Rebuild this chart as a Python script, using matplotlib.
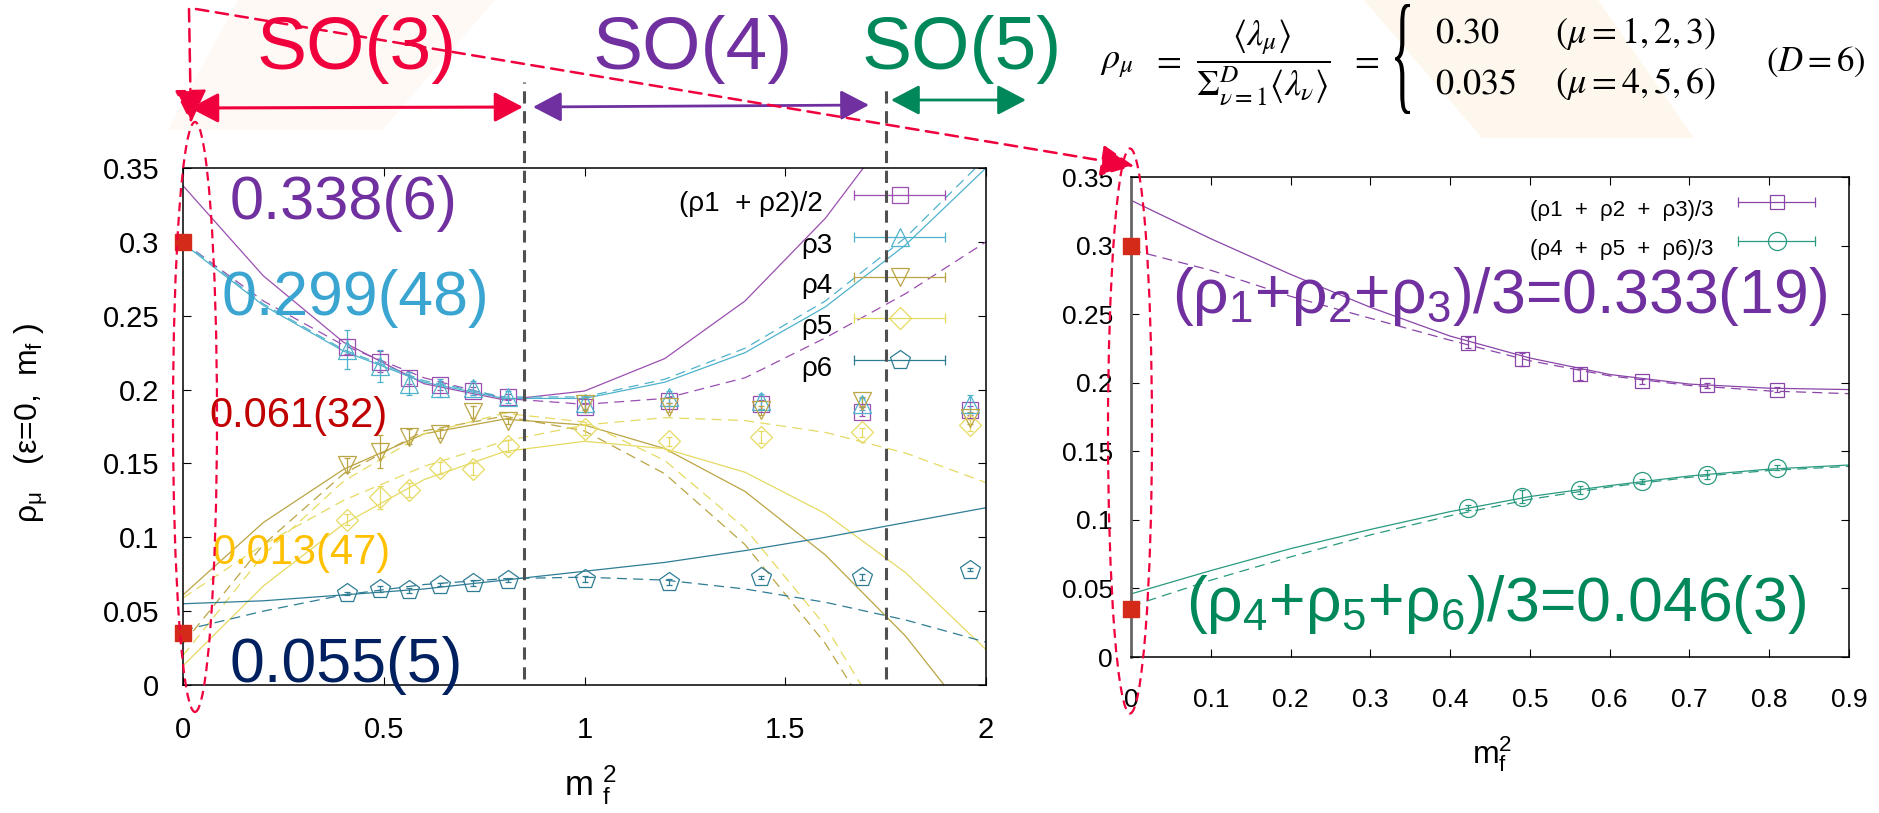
import matplotlib
matplotlib.use("Agg")
import matplotlib.pyplot as plt
from matplotlib.patches import Ellipse, FancyArrowPatch, Polygon, PathPatch
from matplotlib.textpath import TextPath
from matplotlib.font_manager import FontProperties
from matplotlib.transforms import Affine2D

W, H = 1879, 813

plt.rcParams['font.family'] = ['Liberation Sans', 'DejaVu Sans']
plt.rcParams['mathtext.fontset'] = 'custom'
plt.rcParams['mathtext.rm'] = 'Liberation Sans'
plt.rcParams['mathtext.it'] = 'Liberation Sans:italic'
plt.rcParams['mathtext.bf'] = 'Liberation Sans:bold'

# ---------------- left panel: rho_mu vs m_f^2 ----------------
mf2 = [0.4096, 0.49, 0.5625, 0.64, 0.7225, 0.81, 1.0, 1.21, 1.44, 1.69, 1.96]
rho12 = [0.229, 0.219, 0.208, 0.203, 0.199, 0.195, 0.188, 0.192, 0.190, 0.185, 0.186]
err12 = [0.005, 0.007, 0.004, 0.003, 0.003, 0.002, 0.003, 0.003, 0.003, 0.003, 0.003]
rho3 = [0.227, 0.216, 0.204, 0.201, 0.201, 0.195, 0.191, 0.195, 0.192, 0.190, 0.190]
err3 = [0.013, 0.011, 0.008, 0.006, 0.005, 0.004, 0.004, 0.004, 0.005, 0.004, 0.006]
rho4 = [0.149, 0.158, 0.168, 0.170, 0.185, 0.179, 0.190, 0.188, 0.186, 0.192, 0.181]
err4 = [0.005, 0.011, 0.005, 0.003, 0.004, 0.002, 0.004, 0.003, 0.003, 0.003, 0.004]
rho5 = [0.112, 0.127, 0.132, 0.147, 0.146, 0.162, 0.173, 0.165, 0.168, 0.171, 0.176]
err5 = [0.004, 0.008, 0.005, 0.004, 0.004, 0.004, 0.004, 0.003, 0.004, 0.003, 0.004]
rho6 = [0.062, 0.065, 0.064, 0.068, 0.069, 0.071, 0.072, 0.070, 0.073, 0.073, 0.078]
err6 = [0.001, 0.002, 0.002, 0.001, 0.002, 0.001, 0.002, 0.002, 0.001, 0.002, 0.001]

# fit curves at these m_f^2 values
fit_x = [0.0, 0.2, 0.4, 0.6, 0.8, 1.0, 1.2, 1.4, 1.6, 1.8, 2.0]
fit12_solid = [0.338, 0.277, 0.232, 0.204, 0.193, 0.199, 0.221, 0.260, 0.316, 0.388, 0.477]
fit12_dash = [0.300, 0.260, 0.230, 0.208, 0.194, 0.190, 0.194, 0.208, 0.235, 0.265, 0.300]
fit3_solid = [0.299, 0.257, 0.226, 0.205, 0.194, 0.194, 0.205, 0.225, 0.256, 0.298, 0.350]
fit3_dash = [0.300, 0.258, 0.227, 0.206, 0.195, 0.195, 0.207, 0.228, 0.260, 0.303, 0.357]
fit4_solid = [0.061, 0.110, 0.146, 0.170, 0.180, 0.176, 0.160, 0.131, 0.088, 0.033, -0.036]
fit4_dash = [0.028, 0.095, 0.143, 0.172, 0.182, 0.172, 0.143, 0.095, 0.028, -0.059, -0.140]
fit5_solid = [0.013, 0.067, 0.109, 0.139, 0.158, 0.165, 0.160, 0.144, 0.116, 0.076, 0.024]
fit5_dash = [0.059, 0.095, 0.125, 0.148, 0.165, 0.176, 0.181, 0.179, 0.171, 0.157, 0.137]
fit5_dash2 = [0.020, 0.088, 0.138, 0.170, 0.184, 0.178, 0.152, 0.106, 0.040, -0.050, -0.160]
fit6_solid = [0.055, 0.057, 0.061, 0.065, 0.071, 0.077, 0.083, 0.091, 0.100, 0.110, 0.120]
fit6_dash = [0.037, 0.050, 0.061, 0.068, 0.072, 0.073, 0.071, 0.065, 0.056, 0.044, 0.029]

# reference values at m_f = 0
ref_x = [0.0, 0.0]
ref_y = [0.30, 0.035]

left_xticks = [0, 0.5, 1, 1.5, 2]
left_xlabels = ['0', '0.5', '1', '1.5', '2']
yticks = [0, 0.05, 0.1, 0.15, 0.2, 0.25, 0.3, 0.35]
ylabels = ['0', '0.05', '0.1', '0.15', '0.2', '0.25', '0.3', '0.35']
left_keys = ['(ρ1  + ρ2)/2', 'ρ3', 'ρ4', 'ρ5', 'ρ6']
so_borders = [0.85, 1.75]

# ---------------- right panel: SO(3) averages ----------------
mf2_r = [0.4225, 0.49, 0.5625, 0.64, 0.7225, 0.81]
avg123 = [0.229, 0.217, 0.206, 0.201, 0.198, 0.195]
err123 = [0.004, 0.005, 0.004, 0.002, 0.002, 0.002]
avg456 = [0.109, 0.117, 0.122, 0.128, 0.133, 0.138]
err456 = [0.002, 0.005, 0.003, 0.002, 0.003, 0.002]
fit_xr = [0.0, 0.1, 0.2, 0.3, 0.4, 0.5, 0.6, 0.7, 0.8, 0.9]
fit123_solid = [0.333, 0.305, 0.279, 0.255, 0.234, 0.218, 0.206, 0.199, 0.196, 0.195]
fit123_dash = [0.297, 0.282, 0.263, 0.247, 0.231, 0.216, 0.205, 0.198, 0.194, 0.192]
fit456_solid = [0.046, 0.063, 0.079, 0.093, 0.106, 0.117, 0.125, 0.132, 0.137, 0.140]
fit456_dash = [0.037, 0.056, 0.073, 0.089, 0.103, 0.115, 0.124, 0.131, 0.136, 0.139]
right_xticks = [0, 0.1, 0.2, 0.3, 0.4, 0.5, 0.6, 0.7, 0.8, 0.9]
right_xlabels = ['0', '0.1', '0.2', '0.3', '0.4', '0.5', '0.6', '0.7', '0.8', '0.9']
right_keys = ['(ρ1  +  ρ2  +  ρ3)/3', '(ρ4  +  ρ5  +  ρ6)/3']

# colours
c12, c3, c4, c5, c6 = '#9b4fb0', '#4fb2cc', '#bba443', '#e6da62', '#2f7d95'
c123, c456 = '#8a45a8', '#2a9a80'
RED = '#f0003c'
PURPLE = '#7030a0'
GREEN = '#00875a'
SQ = '#d42a1a'


def fx(x):
    return x / W


def fy(y):
    return 1 - y / H


fig = plt.figure(figsize=(W / 100, H / 100), dpi=100)

# faint slide decorations behind the header
fig.add_artist(Polygon([(fx(238), fy(0)), (fx(495), fy(0)), (fx(382), fy(130)), (fx(168), fy(130))],
                       closed=True, transform=fig.transFigure, fc='#fef9f4', ec='none', zorder=0))
fig.add_artist(Polygon([(fx(1364), fy(0)), (fx(1598), fy(0)), (fx(1694), fy(138)), (fx(1482), fy(138))],
                       closed=True, transform=fig.transFigure, fc='#fef7ed', ec='none', zorder=0))

axL = fig.add_axes([fx(183), fy(685), 803 / W, 517 / H])
axR = fig.add_axes([fx(1131), fy(657), 718 / W, 480 / H])


def errpts(ax, x, y, e, col, mk, ms):
    ax.errorbar(x, y, yerr=e, fmt=mk, mfc='none', mec=col, ecolor=col, ms=ms, mew=0.9,
                elinewidth=0.9, capsize=2.5, capthick=0.9, zorder=3)


def key_row(ax, y, label, col, mk, ms, x0, x1, xm, xt, fs):
    ax.plot([x0, x1], [y, y], color=col, lw=0.9, transform=ax.transAxes)
    ax.plot([x0, x1], [y, y], ls='none', marker='|', ms=7, mew=0.9, color=col, transform=ax.transAxes)
    ax.plot([xm], [y], ls='none', marker=mk, ms=ms, mfc='none', mec=col, mew=0.9, transform=ax.transAxes)
    ax.text(xt, y - 0.018, label, ha='right', va='center', fontsize=fs, transform=ax.transAxes)


# ---- left panel
dash = (8, 5)
axL.plot(fit_x, fit12_solid, color=c12, lw=0.9)
axL.plot(fit_x, fit12_dash, color=c12, lw=0.9, dashes=dash)
axL.plot(fit_x, fit3_solid, color=c3, lw=0.9)
axL.plot(fit_x, fit3_dash, color=c3, lw=0.9, dashes=dash)
axL.plot(fit_x, fit4_solid, color=c4, lw=0.9)
axL.plot(fit_x, fit4_dash, color=c4, lw=0.9, dashes=dash)
axL.plot(fit_x, fit5_solid, color=c5, lw=0.9)
axL.plot(fit_x, fit5_dash, color=c5, lw=0.9, dashes=dash)
axL.plot(fit_x, fit5_dash2, color=c5, lw=0.9, dashes=dash)
axL.plot(fit_x, fit6_solid, color=c6, lw=0.9)
axL.plot(fit_x, fit6_dash, color=c6, lw=0.9, dashes=dash)

errpts(axL, mf2, rho12, err12, c12, 's', 11)
errpts(axL, mf2, rho3, err3, c3, '^', 13)
errpts(axL, mf2, rho4, err4, c4, 'v', 13)
errpts(axL, mf2, rho5, err5, c5, 'D', 11)
errpts(axL, mf2, rho6, err6, c6, 'p', 15)

axL.plot(ref_x, ref_y, 's', color=SQ, ms=11, clip_on=False, zorder=6)

for xb, top in zip(so_borders, [1.166, 1.155]):
    axL.axvline(xb, ymin=0.012, ymax=top, color='#505050', lw=2.2, dashes=(4, 2.5), clip_on=False, zorder=5)

key_cols = [c12, c3, c4, c5, c6]
key_mk = ['s', '^', 'v', 'D', 'p']
key_ms = [11, 13, 13, 11, 15]
key_y = [0.948, 0.867, 0.789, 0.710, 0.629]
key_xt = [0.797, 0.809, 0.809, 0.809, 0.809]
for lab, col, mk, ms, yy, xt in zip(left_keys, key_cols, key_mk, key_ms, key_y, key_xt):
    key_row(axL, yy, lab, col, mk, ms, 0.836, 0.949, 0.893, xt, 20)

axL.set_xlim(0, 2)
axL.set_ylim(0, 0.35)
axL.set_xticks(left_xticks)
axL.set_xticklabels(left_xlabels)
axL.set_yticks(yticks)
axL.set_yticklabels(ylabels)
axL.tick_params(direction='in', top=True, right=True, length=6, width=0.8, labelsize=21)
axL.tick_params(axis='y', pad=17)
axL.tick_params(axis='x', pad=22)
for s in axL.spines.values():
    s.set_linewidth(1.1)
axL.set_xlabel(r'm $_{\mathrm{f}}^{2}$', fontsize=25)
axL.xaxis.set_label_coords(0.507, -0.150)
fig.text(fx(31), fy(423), r'ρ$_{\mathrm{\mu}}$   (ε=0,  m$_{\mathrm{f}}$ )', fontsize=23,
         rotation=90, ha='center', va='center')

# ---- right panel
axR.plot(fit_xr, fit123_solid, color=c123, lw=0.9)
axR.plot(fit_xr, fit123_dash, color=c123, lw=0.9, dashes=dash)
axR.plot(fit_xr, fit456_solid, color=c456, lw=0.9)
axR.plot(fit_xr, fit456_dash, color=c456, lw=0.9, dashes=dash)
errpts(axR, mf2_r, avg123, err123, c123, 's', 10)
errpts(axR, mf2_r, avg456, err456, c456, 'o', 13)
axR.plot(ref_x, ref_y, 's', color=SQ, ms=11, clip_on=False, zorder=6)

key_row(axR, 0.948, right_keys[0], c123, 's', 10, 0.845, 0.953, 0.900, 0.811, 16)
key_row(axR, 0.867, right_keys[1], c456, 'o', 13, 0.845, 0.953, 0.900, 0.811, 16)

axR.set_xlim(0, 0.9)
axR.set_ylim(0, 0.35)
axR.set_xticks(right_xticks)
axR.set_xticklabels(right_xlabels)
axR.set_yticks(yticks)
axR.set_yticklabels(ylabels)
axR.tick_params(direction='in', top=True, right=True, length=6, width=0.8, labelsize=19)
axR.tick_params(axis='y', pad=13)
axR.tick_params(axis='x', pad=22)
for s in axR.spines.values():
    s.set_linewidth(1.1)
axR.spines['left'].set_color('#666666')
axR.spines['left'].set_linewidth(2)
axR.set_xlabel(r'm$_{\mathrm{f}}^{2}$', fontsize=23)
axR.xaxis.set_label_coords(0.503, -0.160)

# ---- big annotations
fig.text(fx(230), fy(204), '0.338(6)', fontsize=44, color=PURPLE, va='center', zorder=7)
fig.text(fx(221), fy(298), '0.299(48)', fontsize=45, color='#3aa5d0', va='center', zorder=7)
fig.text(fx(209), fy(416), '0.061(32)', fontsize=30, color='#c00000', va='center', zorder=7)
fig.text(fx(212), fy(553), '0.013(47)', fontsize=30, color='#ffc000', va='center', zorder=7)
fig.text(fx(230), fy(665), '0.055(5)', fontsize=45, color='#002060', va='center', zorder=7)
fig.text(fx(1172), fy(296), r'(ρ$_1$+ρ$_2$+ρ$_3$)/3=0.333(19)', fontsize=45, color=PURPLE,
         va='center', zorder=7)
fig.text(fx(1186), fy(604), r'(ρ$_4$+ρ$_5$+ρ$_6$)/3=0.046(3)', fontsize=45, color=GREEN,
         va='center', zorder=7)

# ---- SO(n) header
fig.text(fx(357), fy(50), 'SO(3)', fontsize=54, color=RED, ha='center', va='center')
fig.text(fx(693), fy(50), 'SO(4)', fontsize=54, color=PURPLE, ha='center', va='center')
fig.text(fx(962), fy(50), 'SO(5)', fontsize=54, color=GREEN, ha='center', va='center')


def arrow(p0, p1, col, style, lw, ls='-', ms=22):
    fig.add_artist(FancyArrowPatch((fx(p0[0]), fy(p0[1])), (fx(p1[0]), fy(p1[1])),
                                   transform=fig.transFigure, arrowstyle=style, mutation_scale=ms,
                                   color=col, lw=lw, linestyle=ls, shrinkA=0, shrinkB=0, zorder=8))


both = '<|-|>,head_length=0.8,head_width=0.42'
arrow((190, 108), (523, 107), RED, both, 2.2)
arrow((533, 107), (869, 105), PURPLE, both, 2.0)
arrow((891, 100), (1026, 100), GREEN, both, 2.0)
one = '-|>,head_length=0.95,head_width=0.45'
arrow((189, 9), (191, 123), RED, one, 1.8, ls=(0, (5, 3)))
arrow((196, 9), (1134, 166), RED, one, 1.8, ls=(0, (5, 3)))

fig.add_artist(Ellipse((fx(195), fy(417)), 44 / W, 590 / H, transform=fig.transFigure, fill=False,
                       ec=RED, lw=1.6, ls=(0, (4, 2.5)), zorder=8))
fig.add_artist(Ellipse((fx(1130), fy(431)), 44 / W, 565 / H, transform=fig.transFigure, fill=False,
                       ec=RED, lw=1.6, ls=(0, (4, 2.5)), zorder=8))

# ---- definition formula (top right)
ff = dict(fontsize=26, math_fontfamily='stix', color='black', va='center')
fig.text(fx(1100), fy(62), r'$\rho_\mu$', ha='left', **ff)
fig.text(fx(1166), fy(60), r'$=$', ha='center', **ff)
fig.text(fx(1263), fy(62),
         r'$\dfrac{\langle\lambda_\mu\rangle}{\mathrm{\Sigma}_{\nu=1}^{D}\langle\lambda_\nu\rangle}$',
         ha='center', **ff)
fig.text(fx(1364), fy(60), r'$=$', ha='center', **ff)
fig.text(fx(1435), fy(33), r'$0.30$', ha='left', **ff)
fig.text(fx(1435), fy(84), r'$0.035$', ha='left', **ff)
fig.text(fx(1555), fy(33), r'$(\mu = 1, 2, 3)$', ha='left', **ff)
fig.text(fx(1555), fy(84), r'$(\mu = 4, 5, 6)$', ha='left', **ff)
fig.text(fx(1766), fy(62), r'$(D = 6)$', ha='left', fontsize=25, math_fontfamily='stix', va='center')

# stretched curly brace
tp = TextPath((0, 0), '{', size=100, prop=FontProperties(family='Liberation Serif'))
bb = tp.get_extents()
bx0, bx1, by0, by1 = 1395, 1410, 4, 114
tr = (Affine2D().translate(-bb.x0, -bb.y0)
      .scale((bx1 - bx0) / bb.width, (by1 - by0) / bb.height)
      .translate(bx0, H - by1)
      .scale(1 / W, 1 / H)) + fig.transFigure
fig.add_artist(PathPatch(tp, transform=tr, fc='black', ec='none'))

fig.savefig('out.png', dpi=100)
